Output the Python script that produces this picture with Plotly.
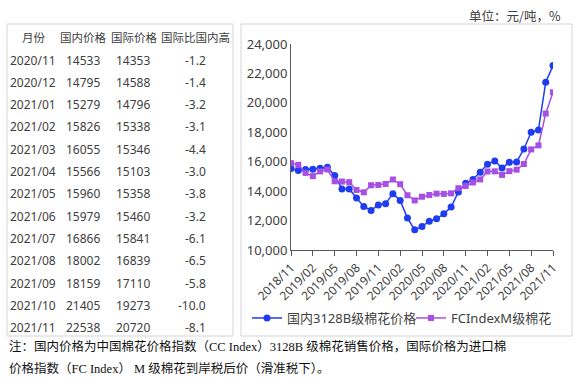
import plotly.graph_objects as go

W, H = 580, 379

# ---- chart data (monthly, 2018/11 .. 2021/11) ----
months = ["2018/11", "2018/12", "2019/01", "2019/02", "2019/03", "2019/04", "2019/05",
          "2019/06", "2019/07", "2019/08", "2019/09", "2019/10", "2019/11", "2019/12",
          "2020/01", "2020/02", "2020/03", "2020/04", "2020/05", "2020/06", "2020/07",
          "2020/08", "2020/09", "2020/10", "2020/11", "2020/12", "2021/01", "2021/02",
          "2021/03", "2021/04", "2021/05", "2021/06", "2021/07", "2021/08", "2021/09",
          "2021/10", "2021/11"]
domestic = [15540, 15400, 15470, 15490, 15560, 15630, 15060, 14150, 14150, 13530,
            12960, 12690, 13060, 13150, 13830, 13370, 12170, 11370, 11600, 11960,
            12120, 12460, 12920, 13940, 14533, 14795, 15279, 15826, 16055, 15566,
            15960, 15979, 16866, 18002, 18159, 21405, 22538]
international = [15900, 15790, 15240, 15020, 15340, 15470, 14670, 14650, 14610, 14080,
                 13920, 14400, 14420, 14490, 14790, 14470, 13720, 13370, 13620, 13740,
                 13830, 13810, 13850, 14200, 14353, 14588, 14796, 15338, 15346, 15103,
                 15358, 15460, 15841, 16839, 17110, 19273, 20720]
series_names = ["国内3128B级棉花价格", "FCIndexM级棉花"]
tick_months = months[::3]
y_ticks = [10000, 12000, 14000, 16000, 18000, 20000, 22000, 24000]

# ---- table data ----
table_header = ["月份", "国内价格", "国际价格", "国际比国内高"]
table_months = ["2020/11", "2020/12", "2021/01", "2021/02", "2021/03", "2021/04", "2021/05",
                "2021/06", "2021/07", "2021/08", "2021/09", "2021/10", "2021/11"]
table_domestic = [14533, 14795, 15279, 15826, 16055, 15566, 15960, 15979, 16866, 18002,
                  18159, 21405, 22538]
table_international = [14353, 14588, 14796, 15338, 15346, 15103, 15358, 15460, 15841,
                       16839, 17110, 19273, 20720]
table_diff = ["-1.2", "-1.4", "-3.2", "-3.1", "-4.4", "-3.0", "-3.8", "-3.2", "-6.1",
              "-6.5", "-5.8", "-10.0", "-8.1"]

unit_text = "单位：元/吨，%"
note_line1 = "注：国内价格为中国棉花价格指数（CC Index）3128B 级棉花销售价格，国际价格为进口棉"
note_line2 = "价格指数（FC Index） M 级棉花到岸税后价（滑准税下）。"

BLUE = "#1f3cf2"
PURPLE = "#a74fe3"
FONT = "Noto Sans, Noto Sans CJK SC, sans-serif"


def px(x):
    return x / W


def py(y):
    return 1 - y / H


x_idx = list(range(len(months)))

fig = go.Figure()
fig.add_trace(go.Scatter(x=x_idx, y=domestic, name=series_names[0], mode="lines+markers",
                         line=dict(color=BLUE, width=1.5),
                         marker=dict(symbol="circle", size=7, color=BLUE),
                         legend="legend"))
fig.add_trace(go.Scatter(x=x_idx, y=international, name=series_names[1], mode="lines+markers",
                         line=dict(color=PURPLE, width=1.5),
                         marker=dict(symbol="square", size=6, color=PURPLE),
                         legend="legend2"))

leg_common = dict(orientation="h", xanchor="left", y=py(318), yanchor="middle",
                  font=dict(size=13, color="#404040"), bgcolor="rgba(0,0,0,0)",
                  itemwidth=30)

fig.update_layout(
    width=W, height=H,
    margin=dict(l=0, r=0, t=0, b=0, autoexpand=False),
    paper_bgcolor="white", plot_bgcolor="white",
    font=dict(family=FONT, size=12, color="#404040"),
    showlegend=True,
    legend=dict(x=px(247), **leg_common),
    legend2=dict(x=px(411), **leg_common),
    xaxis=dict(domain=[px(291), px(553)], range=[0, 36],
               tickvals=x_idx[::3], ticktext=tick_months, tickangle=-45,
               showline=True, linecolor="#595959", linewidth=1,
               ticks="outside", ticklen=5, tickcolor="#595959",
               showgrid=False, zeroline=False, automargin=False,
               tickfont=dict(size=12, color="#404040")),
    yaxis=dict(domain=[py(250), py(44)], range=[10000, 24000],
               tickvals=y_ticks, tickformat=",",
               showline=True, linecolor="#595959", linewidth=1,
               ticks="", showgrid=False, zeroline=False, automargin=False,
               tickfont=dict(size=13, color="#404040")),
)

shapes = [
    dict(type="rect", xref="paper", yref="paper", x0=px(7), x1=px(233), y0=py(336), y1=py(24),
         line=dict(color="#d4d4d4", width=1)),
    dict(type="rect", xref="paper", yref="paper", x0=px(241), x1=px(572), y0=py(336), y1=py(24),
         line=dict(color="#d4d4d4", width=1)),
]
fig.update_layout(shapes=shapes)

ann = []


def text(x, y, s, anchor="left", size=12, color="#404040", family=FONT):
    ann.append(dict(x=px(x), y=py(y), xref="paper", yref="paper", text=s, showarrow=False,
                    xanchor=anchor, yanchor="middle", borderpad=0,
                    font=dict(size=size, color=color, family=family)))


# table header
text(21, 37, table_header[0], size=11.5)
text(59, 37, table_header[1], size=11.5)
text(110, 37, table_header[2], size=11.5)
text(160, 37, table_header[3], size=11.5)
row_h = 22.3
for i, m in enumerate(table_months):
    yy = 60 + i * row_h
    text(9, yy, m, size=12)
    text(65, yy, str(table_domestic[i]), size=12)
    text(115, yy, str(table_international[i]), size=12)
    text(207, yy, table_diff[i], anchor="right", size=12)

# unit label
text(562, 15, unit_text, anchor="right", size=12.5, color="#404040",
     family="Noto Sans CJK SC, sans-serif")

# footnote
SERIF = "Liberation Serif, Noto Sans CJK SC, serif"
text(8, 346, note_line1, size=12.5, color="#111111", family=SERIF)
text(8, 368, note_line2, size=12.5, color="#111111", family=SERIF)

fig.update_layout(annotations=ann)

fig.write_html("out.html", config={"displayModeBar": False},
               post_script="document.body.style.margin='0';")
